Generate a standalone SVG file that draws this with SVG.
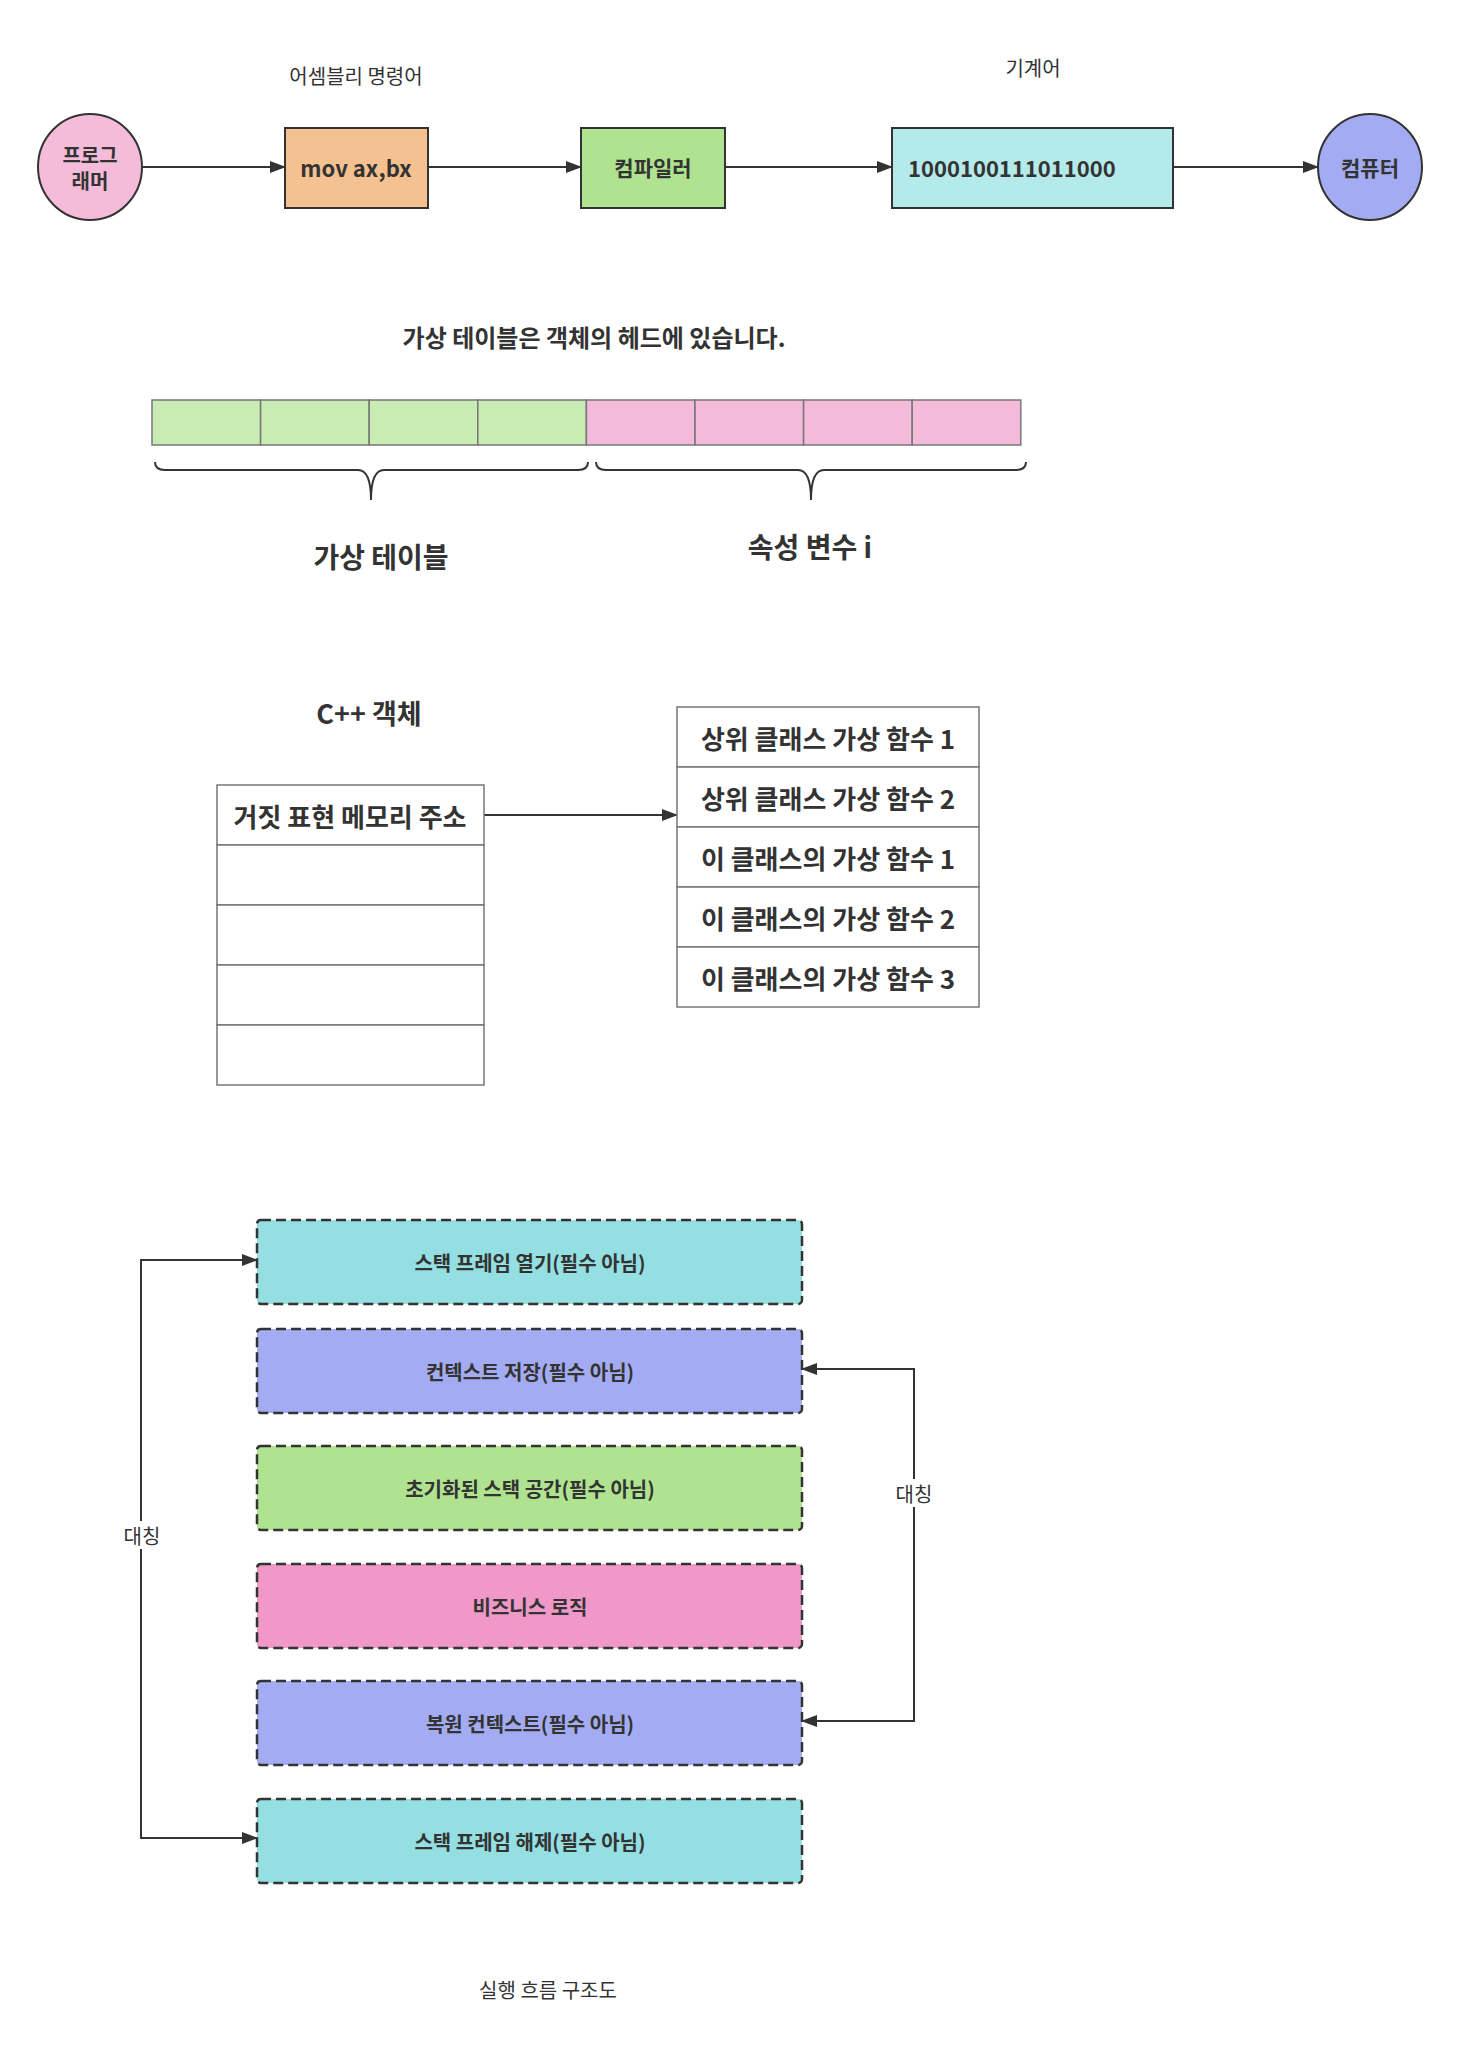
<svg xmlns="http://www.w3.org/2000/svg" width="1462" height="2069" viewBox="0 0 1462 2069">
<defs>
<marker id="ah2" markerWidth="16" markerHeight="12" refX="15" refY="6" orient="auto" markerUnits="userSpaceOnUse" viewBox="0 0 16 12"><path d="M0,0 L16,6 L0,12 z" fill="#333"/></marker>
</defs>
<style>
text{font-family:"Noto Sans CJK KR","Noto Sans",sans-serif;fill:#333;text-anchor:middle;dominant-baseline:central}
.b{font-weight:bold}
.n{stroke:#333;stroke-width:2}
.c{stroke:#777;stroke-width:1.5}
.g{fill:#C9ECB4}
.p{fill:#F4BADA}
.t{stroke:#777;stroke-width:1.5;fill:#fff}
.d{stroke:#333;stroke-width:2.5;stroke-dasharray:10,5}
.l{stroke:#333;stroke-width:2;fill:none}
</style>
<rect width="1462" height="2069" fill="#fff"/>
<g id="connectors">
<line class="l" x1="142" y1="167" x2="285" y2="167" marker-end="url(#ah2)"/>
<line class="l" x1="428" y1="167" x2="581" y2="167" marker-end="url(#ah2)"/>
<line class="l" x1="725" y1="167" x2="892" y2="167" marker-end="url(#ah2)"/>
<line class="l" x1="1173" y1="167" x2="1318" y2="167" marker-end="url(#ah2)"/>
<line class="l" x1="484" y1="815" x2="677" y2="815" marker-end="url(#ah2)"/>
<polyline class="l" points="257,1260 141,1260 141,1838 257,1838" marker-end="url(#ah2)"/>
<path class="l" d="M141,1260 L257,1260" marker-end="url(#ah2)"/>
<polyline class="l" points="802,1721 914,1721 914,1369 802,1369" marker-end="url(#ah2)"/>
<path class="l" d="M914,1721 L802,1721" marker-end="url(#ah2)"/>
<rect x="122" y="1521" width="40" height="28" fill="#fff"/>
<rect x="894" y="1479" width="40" height="28" fill="#fff"/>
<text x="142" y="1535" font-size="20">대칭</text>
<text x="914" y="1493" font-size="20">대칭</text>
</g>
<g id="programmer"><ellipse class="n" cx="90" cy="167" rx="52" ry="53" fill="#F5BCDA"/><text class="b" x="90" y="154" font-size="20">프로그</text><text class="b" x="90" y="180" font-size="20">래머</text></g>
<g id="asm-label"><text x="356" y="75" font-size="20">어셈블리 명령어</text></g>
<g id="mov"><rect class="n" x="285" y="128" width="143" height="80" fill="#F5C190"/><text class="b" x="356" y="167" font-size="22">mov ax,bx</text></g>
<g id="compiler"><rect class="n" x="581" y="128" width="144" height="80" fill="#B0E38F"/><text class="b" x="653" y="167" font-size="21">컴파일러</text></g>
<g id="machine-label"><text x="1033" y="67" font-size="20">기계어</text></g>
<g id="machine"><rect class="n" x="892" y="128" width="281" height="80" fill="#B5EAEA"/><text class="b" x="908" y="167" font-size="22" style="text-anchor:start">1000100111011000</text></g>
<g id="computer"><ellipse class="n" cx="1370" cy="167" rx="52" ry="53" fill="#A3ACF2"/><text class="b" x="1370" y="167" font-size="21">컴퓨터</text></g>

<g id="vt-title"><text class="b" x="594" y="336" font-size="24">가상 테이블은 객체의 헤드에 있습니다.</text></g>
<g id="cells">
<rect class="c g" x="152" y="400" width="108.6" height="45"/>
<rect class="c g" x="260.6" y="400" width="108.6" height="45"/>
<rect class="c g" x="369.2" y="400" width="108.6" height="45"/>
<rect class="c g" x="477.8" y="400" width="108.6" height="45"/>
<rect class="c p" x="586.4" y="400" width="108.6" height="45"/>
<rect class="c p" x="695" y="400" width="108.6" height="45"/>
<rect class="c p" x="803.6" y="400" width="108.6" height="45"/>
<rect class="c p" x="912.2" y="400" width="108.6" height="45"/>
</g>
<g id="braces">
<path class="l" d="M155,462 Q155,470 165,470 L358,470 Q371,470 371,500 Q371,470 384,470 L578,470 Q588,470 588,462"/>
<path class="l" d="M596,462 Q596,470 606,470 L798,470 Q811,470 811,500 Q811,470 824,470 L1016,470 Q1026,470 1026,462"/>
</g>
<g id="vt-label"><text class="b" x="381" y="556" font-size="28">가상 테이블</text></g>
<g id="attr-label"><text class="b" x="810" y="546" font-size="28">속성 변수 i</text></g>

<g id="cpp-label"><text class="b" x="369" y="712" font-size="27">C++ 객체</text></g>
<g id="object-table">
<rect class="t" x="217" y="785" width="267" height="60"/>
<rect class="t" x="217" y="845" width="267" height="60"/>
<rect class="t" x="217" y="905" width="267" height="60"/>
<rect class="t" x="217" y="965" width="267" height="60"/>
<rect class="t" x="217" y="1025" width="267" height="60"/>
<text class="b" x="350" y="815" font-size="26">거짓 표현 메모리 주소</text>
</g>
<g id="vtable">
<rect class="t" x="677" y="707" width="302" height="60"/>
<rect class="t" x="677" y="767" width="302" height="60"/>
<rect class="t" x="677" y="827" width="302" height="60"/>
<rect class="t" x="677" y="887" width="302" height="60"/>
<rect class="t" x="677" y="947" width="302" height="60"/>
<text class="b" x="828" y="737" font-size="26">상위 클래스 가상 함수 1</text>
<text class="b" x="828" y="797" font-size="26">상위 클래스 가상 함수 2</text>
<text class="b" x="828" y="857" font-size="26">이 클래스의 가상 함수 1</text>
<text class="b" x="828" y="917" font-size="26">이 클래스의 가상 함수 2</text>
<text class="b" x="828" y="977" font-size="26">이 클래스의 가상 함수 3</text>
</g>

<g id="s1"><rect class="d" x="257" y="1220" width="545" height="84" rx="4" fill="#93DFE1"/><text class="b" x="530" y="1262" font-size="20">스택 프레임 열기(필수 아님)</text></g>
<g id="s2"><rect class="d" x="257" y="1329" width="545" height="84" rx="4" fill="#A3ACF2"/><text class="b" x="530" y="1371" font-size="20">컨텍스트 저장(필수 아님)</text></g>
<g id="s3"><rect class="d" x="257" y="1446" width="545" height="84" rx="4" fill="#B0E38F"/><text class="b" x="530" y="1488" font-size="20">초기화된 스택 공간(필수 아님)</text></g>
<g id="s4"><rect class="d" x="257" y="1564" width="545" height="84" rx="4" fill="#F098C7"/><text class="b" x="530" y="1606" font-size="20">비즈니스 로직</text></g>
<g id="s5"><rect class="d" x="257" y="1681" width="545" height="84" rx="4" fill="#A3ACF2"/><text class="b" x="530" y="1723" font-size="20">복원 컨텍스트(필수 아님)</text></g>
<g id="s6"><rect class="d" x="257" y="1799" width="545" height="84" rx="4" fill="#93DFE1"/><text class="b" x="530" y="1841" font-size="20">스택 프레임 해제(필수 아님)</text></g>
<g id="caption"><text x="548" y="1989" font-size="20">실행 흐름 구조도</text></g>
</svg>
